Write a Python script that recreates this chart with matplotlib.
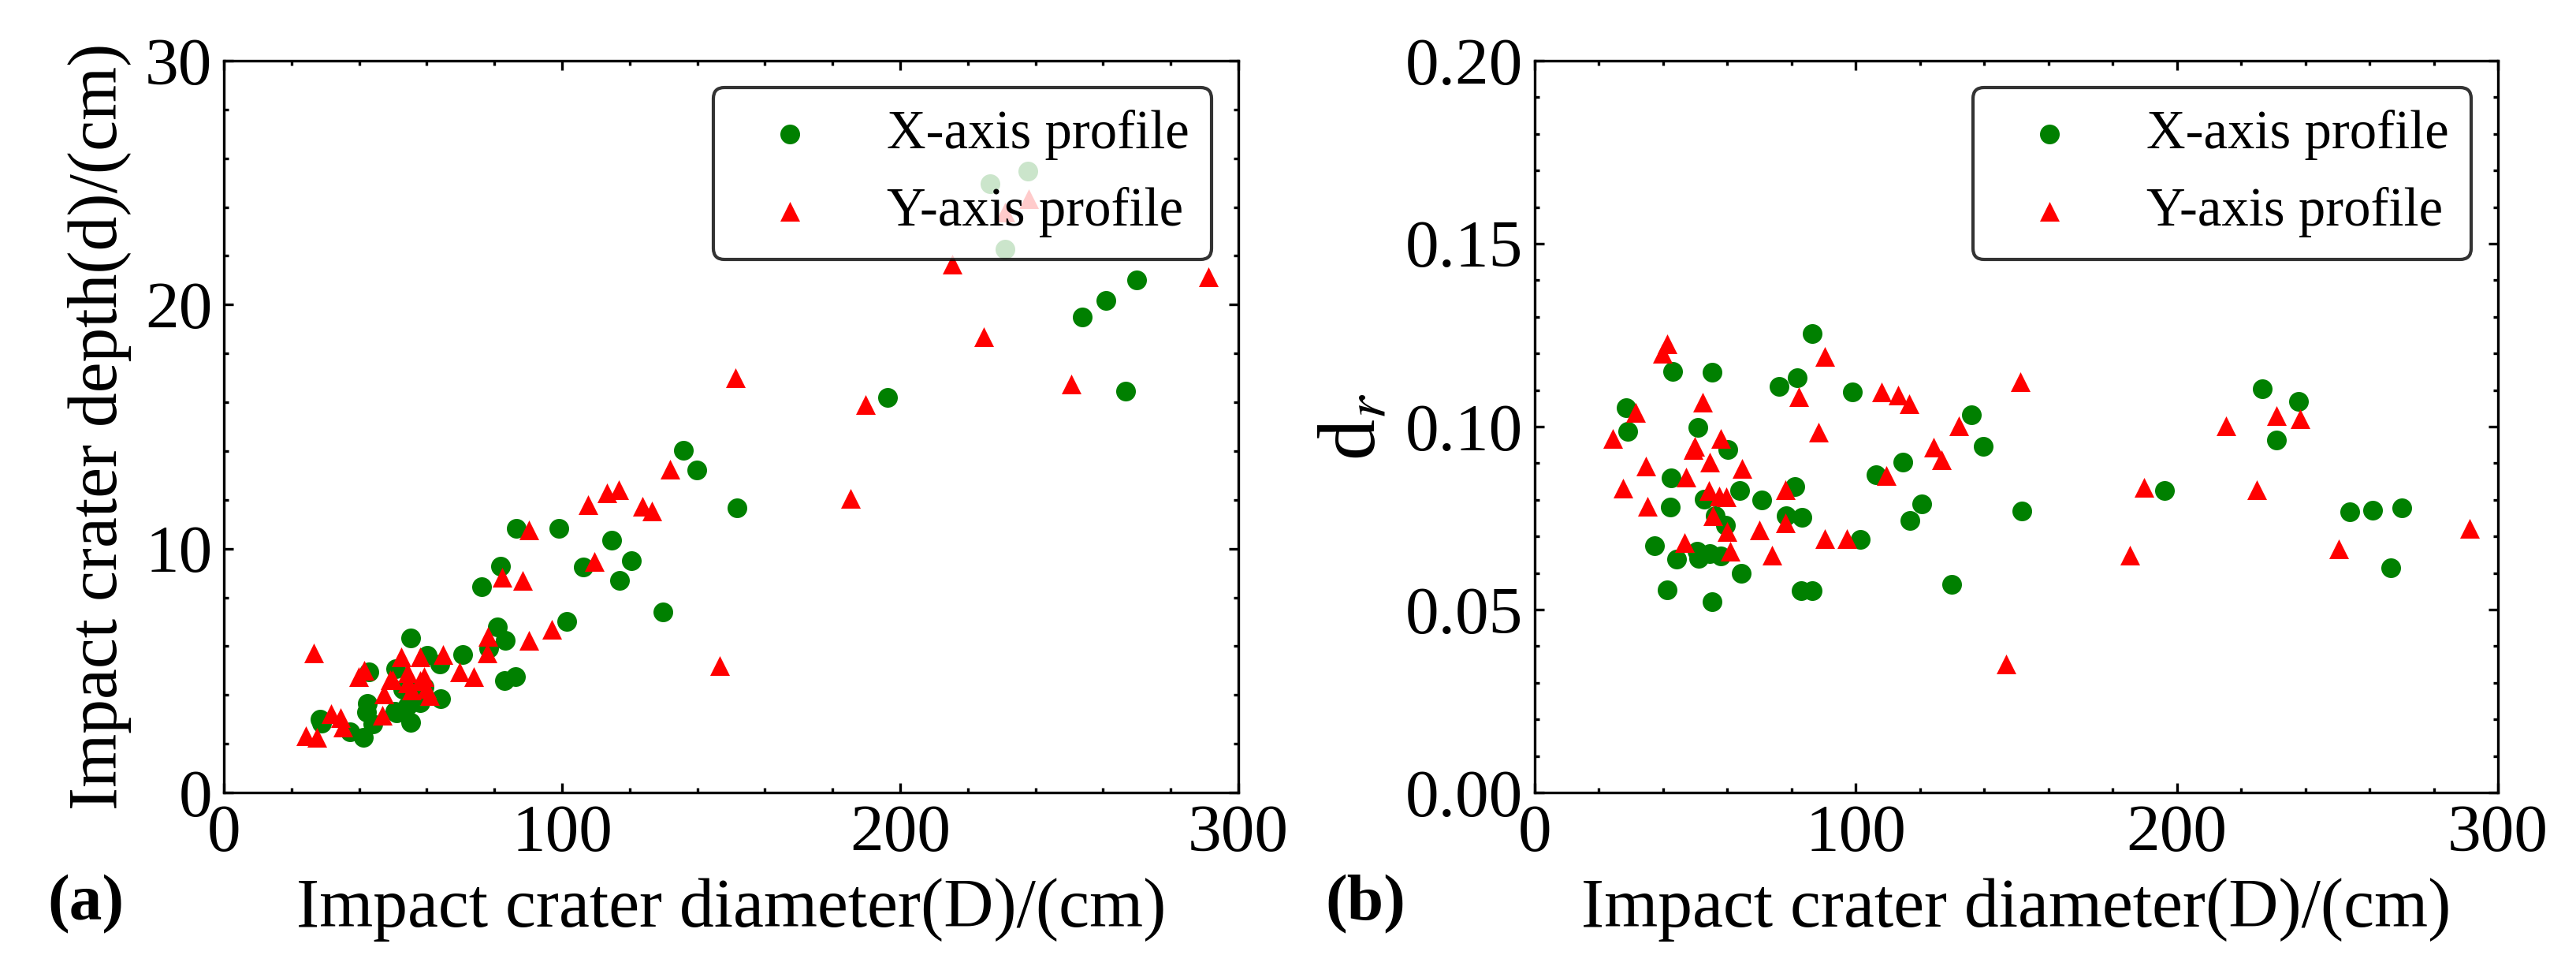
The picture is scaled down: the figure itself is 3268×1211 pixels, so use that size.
import matplotlib
matplotlib.use("Agg")
import matplotlib.pyplot as plt
from matplotlib.ticker import MultipleLocator

plt.rcParams['font.family'] = ['Liberation Serif', 'DejaVu Serif']
plt.rcParams['mathtext.fontset'] = 'stix'

# X-axis profile: crater diameter D (cm), depth d (cm), ratio dr
x_diam = [28.5, 28.9, 37.2, 41.3, 42.2, 42.5, 42.9, 44.1, 50.5, 50.9, 51.1, 52.9,
          54.4, 55.2, 55.2, 56.2, 58.0, 59.3, 60.1, 63.8, 64.2, 70.7, 76.2, 78.4,
          80.9, 81.8, 83.0, 83.3, 86.3, 86.4, 99.0, 101.3, 106.2, 114.6, 116.9, 120.5,
          129.9, 136.0, 139.8, 151.8, 196.2, 226.5, 230.9, 237.8, 253.9, 260.9, 266.6, 270.0]
x_depth = [3.00, 2.86, 2.50, 2.27, 3.30, 3.65, 4.94, 2.81, 3.32, 5.07, 3.28, 4.23,
           3.55, 6.33, 2.87, 4.25, 3.70, 4.34, 5.64, 5.27, 3.84, 5.66, 8.44, 5.93,
           6.78, 9.29, 4.58, 6.25, 4.75, 10.83, 10.83, 7.00, 9.24, 10.33, 8.69, 9.49,
           7.39, 14.04, 13.23, 11.68, 16.21, 24.96, 22.28, 25.49, 19.50, 20.16, 16.45, 21.00]
x_ratio = [0.1052, 0.0988, 0.0674, 0.0553, 0.0781, 0.0859, 0.1151, 0.0639, 0.0660, 0.0998,
           0.0641, 0.0801, 0.0652, 0.1148, 0.0521, 0.0756, 0.0646, 0.0730, 0.0937, 0.0825,
           0.0599, 0.0800, 0.1109, 0.0757, 0.0837, 0.1133, 0.0552, 0.0752, 0.0552, 0.1255,
           0.1095, 0.0692, 0.0869, 0.0902, 0.0743, 0.0788, 0.0568, 0.1032, 0.0946, 0.0769,
           0.0826, 0.1104, 0.0963, 0.1070, 0.0767, 0.0772, 0.0615, 0.0777]

# Y-axis profile, panel (a)
y_diam = [24.3, 27.6, 26.6, 31.7, 34.4, 35.2, 39.9, 41.4, 46.9, 47.3, 49.9, 49.3,
          52.5, 54.4, 54.2, 55.5, 58.1, 58.1, 59.3, 59.8, 60.8, 64.7, 69.8, 74.0,
          78.2, 77.9, 82.2, 88.4, 90.3, 90.3, 97.0, 107.8, 113.3, 109.6, 116.7, 123.8,
          126.6, 132.0, 146.6, 151.3, 185.2, 189.8, 215.3, 224.8, 230.9, 237.9, 250.5, 291.2]
y_depth = [2.32, 2.26, 5.73, 3.23, 3.07, 2.69, 4.74, 5.01, 3.18, 4.04, 4.63, 4.62,
           5.57, 4.91, 4.48, 4.20, 5.57, 4.58, 4.74, 4.26, 3.99, 5.66, 4.96, 4.74,
           6.41, 5.71, 8.84, 8.68, 10.78, 6.25, 6.68, 11.80, 12.29, 9.48, 12.42, 11.72,
           11.54, 13.26, 5.22, 17.01, 12.05, 15.90, 21.65, 18.68, 23.79, 24.34, 16.73, 21.15]

# Y-axis profile, panel (b)
y_diam_b = [24.4, 27.4, 31.5, 34.6, 35.2, 39.7, 41.3, 46.6, 47.2, 49.3, 49.8, 52.3,
            54.2, 54.4, 55.5, 57.5, 58.0, 59.7, 59.8, 60.9, 64.6, 70.0, 74.0, 78.0,
            78.0, 82.3, 88.3, 90.4, 90.4, 97.2, 107.9, 109.5, 113.2, 116.5, 124.1, 126.7,
            132.0, 146.8, 151.2, 185.4, 189.8, 215.3, 224.9, 231.0, 238.3, 250.5, 291.1]
y_ratio = [0.0968, 0.0831, 0.1039, 0.0892, 0.0783, 0.1200, 0.1227, 0.0683, 0.0863, 0.0937,
           0.0947, 0.1067, 0.0826, 0.0902, 0.0757, 0.0811, 0.0968, 0.0809, 0.0713, 0.0660,
           0.0886, 0.0717, 0.0649, 0.0828, 0.0736, 0.1081, 0.0984, 0.1192, 0.0694, 0.0694,
           0.1095, 0.0867, 0.1087, 0.1062, 0.0945, 0.0909, 0.1002, 0.0352, 0.1123, 0.0649,
           0.0835, 0.1002, 0.0827, 0.1031, 0.1021, 0.0667, 0.0721]

W, H = 3268, 1211
fig = plt.figure(figsize=(W / 300, H / 300), dpi=300)
ax1 = fig.add_axes([284 / W, 1 - 1005 / H, 1287 / W, 928 / H])
ax2 = fig.add_axes([1947 / W, 1 - 1005 / H, 1222 / W, 928 / H])

fs = 20.5
for ax in (ax1, ax2):
    ax.tick_params(which='both', direction='in', top=True, right=True, labelsize=fs)
    ax.tick_params(which='major', length=2.8, width=0.8)
    ax.tick_params(which='minor', length=1.5, width=0.8)
    ax.set_xlim(0, 300)
    ax.xaxis.set_major_locator(MultipleLocator(100))
    ax.xaxis.set_minor_locator(MultipleLocator(20))
    ax.set_xlabel('Impact crater diameter(D)/(cm)', fontsize=21)

ax1.scatter(x_diam, x_depth, s=36, c='green', marker='o', linewidths=0, label='X-axis profile')
ax1.scatter(y_diam, y_depth, s=36, c='red', marker='^', linewidths=0, label='Y-axis profile')
ax1.set_ylim(0, 30)
ax1.yaxis.set_major_locator(MultipleLocator(10))
ax1.yaxis.set_minor_locator(MultipleLocator(2))
ax1.set_ylabel('Impact crater depth(d)/(cm)', fontsize=21)

ax2.scatter(x_diam, x_ratio, s=36, c='green', marker='o', linewidths=0, label='X-axis profile')
ax2.scatter(y_diam_b, y_ratio, s=36, c='red', marker='^', linewidths=0, label='Y-axis profile')
ax2.set_ylim(0, 0.2)
ax2.yaxis.set_major_locator(MultipleLocator(0.05))
ax2.yaxis.set_minor_locator(MultipleLocator(0.01))
ax2.set_ylabel('d$_r$', fontsize=25)

for ax in (ax1, ax2):
    leg = ax.legend(loc='upper right', fontsize=16.5, scatterpoints=1, fancybox=True)
    leg.get_frame().set_edgecolor('black')

fig.text(60 / W, 1 - 1147 / H, '(a)', fontsize=20, fontweight='bold', va='center')
fig.text(1681 / W, 1 - 1147 / H, '(b)', fontsize=20, fontweight='bold', va='center')

fig.savefig('out.png', dpi=300)
